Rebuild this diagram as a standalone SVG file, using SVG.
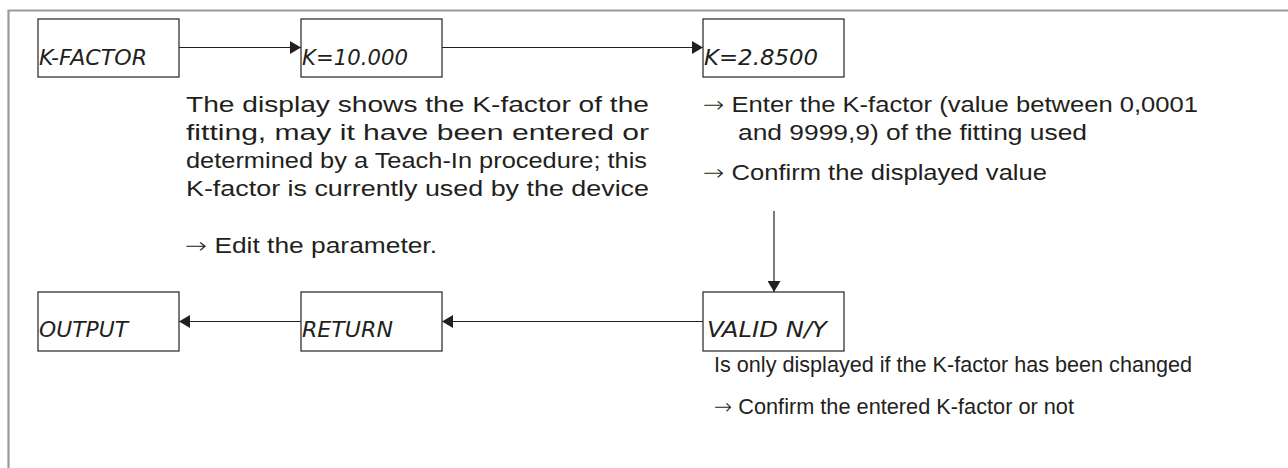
<svg xmlns="http://www.w3.org/2000/svg" width="1288" height="468" viewBox="0 0 1288 468">
<style>
.frame{fill:none;stroke:#9a9a9a;stroke-width:2.2}
.box{fill:#fff;stroke:#333;stroke-width:1.3}
.lcd{font-family:"DejaVu Sans","Liberation Sans",sans-serif;font-stretch:condensed;font-style:oblique;font-weight:200;font-size:21px;fill:#231f20}
.txt{font-family:"Liberation Sans",Arial,sans-serif;font-size:22px;fill:#231f20}
.ar{font-family:"DejaVu Sans",sans-serif;font-weight:200}
.conn{fill:none;stroke:#231f20;stroke-width:1.2}
</style>
<defs>
<marker id="ah" markerWidth="12" markerHeight="13" refX="11" refY="6.5" orient="auto" markerUnits="userSpaceOnUse">
<path d="M0,0 L11,6.5 L0,13 Z" fill="#231f20"/>
</marker>
</defs>
<path class="frame" d="M8.5,468 V10.5 H1288"/>
<g id="connectors">
<line class="conn" x1="179" y1="47.5" x2="301" y2="47.5" marker-end="url(#ah)"/>
<line class="conn" x1="442" y1="47.5" x2="703" y2="47.5" marker-end="url(#ah)"/>
<line class="conn" x1="774" y1="211" x2="774" y2="292" marker-end="url(#ah)"/>
<line class="conn" x1="703" y1="321.5" x2="442" y2="321.5" marker-end="url(#ah)"/>
<line class="conn" x1="301" y1="321.5" x2="179" y2="321.5" marker-end="url(#ah)"/>
</g>
<g id="node-kfactor">
<rect class="box" x="38" y="19" width="141" height="58"/>
<text class="lcd" x="39" y="65" textLength="108" lengthAdjust="spacingAndGlyphs">K-FACTOR</text>
</g>
<g id="node-k10">
<rect class="box" x="301" y="19" width="141" height="58"/>
<text class="lcd" x="302" y="65" textLength="106" lengthAdjust="spacingAndGlyphs">K=10.000</text>
</g>
<g id="node-k28500">
<rect class="box" x="703" y="19" width="141" height="58"/>
<text class="lcd" x="704" y="65" textLength="114" lengthAdjust="spacingAndGlyphs">K=2.8500</text>
</g>
<g id="node-output">
<rect class="box" x="38" y="292" width="141" height="59"/>
<text class="lcd" x="39" y="337" textLength="89" lengthAdjust="spacingAndGlyphs">OUTPUT</text>
</g>
<g id="node-return">
<rect class="box" x="301" y="292" width="141" height="59"/>
<text class="lcd" x="302" y="337" textLength="91" lengthAdjust="spacingAndGlyphs">RETURN</text>
</g>
<g id="node-valid">
<rect class="box" x="703" y="292" width="141" height="59"/>
<text class="lcd" x="707" y="337" textLength="120" lengthAdjust="spacingAndGlyphs">VALID N/Y</text>
</g>
<g id="text-left">
<text class="txt" x="186" y="112" textLength="463" lengthAdjust="spacingAndGlyphs">The display shows the K-factor of the</text>
<text class="txt" x="186" y="140" textLength="463" lengthAdjust="spacingAndGlyphs">fitting, may it have been entered or</text>
<text class="txt" x="186" y="168" textLength="461" lengthAdjust="spacingAndGlyphs">determined by a Teach-In procedure; this</text>
<text class="txt" x="186" y="196" textLength="463" lengthAdjust="spacingAndGlyphs">K-factor is currently used by the device</text>
<text class="txt" x="185" y="253" textLength="252" lengthAdjust="spacingAndGlyphs"><tspan class="ar">→</tspan> Edit the parameter.</text>
</g>
<g id="text-right">
<text class="txt" x="703" y="112" textLength="495" lengthAdjust="spacingAndGlyphs"><tspan class="ar">→</tspan> Enter the K-factor (value between 0,0001</text>
<text class="txt" x="738" y="140" textLength="349" lengthAdjust="spacingAndGlyphs">and 9999,9) of the fitting used</text>
<text class="txt" x="703" y="180" textLength="344" lengthAdjust="spacingAndGlyphs"><tspan class="ar">→</tspan> Confirm the displayed value</text>
</g>
<g id="text-bottom">
<text class="txt" x="714" y="372" textLength="478" lengthAdjust="spacingAndGlyphs">Is only displayed if the K-factor has been changed</text>
<text class="txt" x="714" y="414" textLength="360" lengthAdjust="spacingAndGlyphs"><tspan class="ar">→</tspan> Confirm the entered K-factor or not</text>
</g>
</svg>
